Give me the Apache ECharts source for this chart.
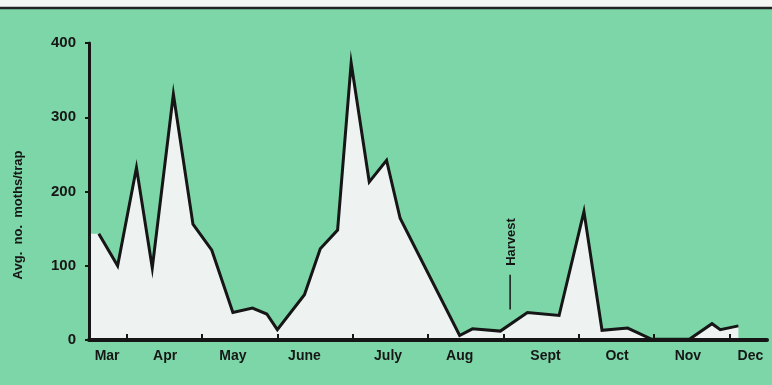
<!DOCTYPE html>
<html>
<head>
<meta charset="utf-8">
<script src="https://cdn.jsdelivr.net/npm/echarts@6/dist/echarts.min.js"></script>
<style>
  html, body { margin: 0; padding: 0; background: #7dd6a8; }
  #chart { width: 772px; height: 385px; }
</style>
</head>
<body>
<div id="chart"></div>
<script>
// x is in months from the start of March (0 = 1 Mar, 9 = end of Nov / early Dec)
const weekX = [0.13, 0.38, 0.63, 0.84, 1.12, 1.38, 1.63, 1.91, 2.17, 2.36, 2.5, 2.86, 3.07, 3.3, 3.48, 3.72, 3.95, 4.13, 4.92, 5.09, 5.46, 5.82, 6.24, 6.57, 6.81, 7.15, 7.47, 7.97, 8.27, 8.38, 8.62]
const mothsPerTrap = [143, 100, 232, 97, 331, 156, 121, 37, 43, 35, 14, 61, 123, 148, 373, 213, 242, 164, 6, 15, 12, 37, 33, 173, 13, 16, 1, 1, 22, 14, 19]
const startFill = 143

const monthNames = ['Mar', 'Apr', 'May', 'June', 'July', 'Aug', 'Sept', 'Oct', 'Nov', 'Dec']
const monthLabelPos = [0.24, 1.01, 1.91, 2.86, 3.97, 4.92, 6.06, 7.01, 7.95, 8.78]
const monthTicks = [0.5, 1.5, 2.5, 3.5, 4.5, 5.5, 6.5, 7.5, 8.5]
const yTicks = [0, 100, 200, 300, 400]

const harvestX = 5.59
const harvestFrom = 41
const harvestTo = 88

const points = weekX.map((x, i) => [x, mothsPerTrap[i]])
const fillPoints = [[0, startFill]].concat(points)

const chart = echarts.init(document.getElementById('chart'))
const ink = '#161616'
const font = '"Liberation Sans", Arial, sans-serif'

const option = {
  backgroundColor: '#7dd6a8',
  animation: false,
  grid: { left: 89, right: 5, top: 43, bottom: 45 },
  xAxis: {
    type: 'value',
    min: 0,
    max: 9,
    z: 5,
    axisLine: { show: true, onZero: false, lineStyle: { color: ink, width: 4 } },
    axisTick: { show: true, inside: true, length: 6, lineStyle: { color: ink, width: 2 }, customValues: monthTicks },
    axisLabel: {
      customValues: monthLabelPos,
      margin: 9,
      color: ink,
      fontFamily: font,
      fontWeight: 'bold',
      fontSize: 14,
      formatter: function (v) {
        const idx = monthLabelPos.findIndex(p => Math.abs(p - v) < 1e-6)
        return idx >= 0 ? monthNames[idx] : ''
      }
    },
    splitLine: { show: false }
  },
  yAxis: {
    type: 'value',
    min: 0,
    max: 400,
    interval: 100,
    z: 5,
    axisLine: { show: true, lineStyle: { color: ink, width: 3 } },
    axisTick: { show: true, length: 4, lineStyle: { color: ink, width: 2 } },
    axisLabel: {
      margin: 13,
      color: ink,
      fontFamily: font,
      fontWeight: 'bold',
      fontSize: 15,
      formatter: v => yTicks.includes(v) ? String(v) : ''
    },
    splitLine: { show: false }
  },
  series: [
    {
      name: 'fill',
      type: 'line',
      data: fillPoints,
      symbol: 'none',
      lineStyle: { width: 0 },
      areaStyle: { color: '#eef3f1', opacity: 1 },
      z: 1
    },
    {
      name: 'moths',
      type: 'line',
      data: points,
      symbol: 'none',
      lineStyle: { color: ink, width: 3, join: 'miter', miterLimit: 10 },
      z: 3
    },
    {
      name: 'harvest',
      type: 'line',
      data: [[harvestX, harvestFrom], [harvestX, harvestTo]],
      symbol: 'none',
      lineStyle: { color: ink, width: 1.5 },
      z: 3
    }
  ]
}

chart.setOption(option)

const harvestPos = chart.convertToPixel({ gridIndex: 0 }, [harvestX, 132])

chart.setOption({
  graphic: [
    { type: 'rect', shape: { x: 0, y: 0, width: 772, height: 7 }, style: { fill: '#f4f6f4' }, z: 10 },
    { type: 'line', shape: { x1: 0, y1: 8, x2: 772, y2: 8 }, style: { stroke: '#222', lineWidth: 2.5 }, z: 10 },
    {
      type: 'text',
      x: 18,
      y: 215,
      rotation: Math.PI / 2,
      style: {
        text: 'Avg.  no.  moths/trap',
        fill: ink,
        font: 'bold 13px ' + font,
        align: 'center',
        verticalAlign: 'middle'
      },
      z: 10
    },
    {
      type: 'text',
      x: harvestPos[0] + 1,
      y: harvestPos[1],
      rotation: Math.PI / 2,
      style: {
        text: 'Harvest',
        fill: ink,
        font: 'bold 13px ' + font,
        align: 'center',
        verticalAlign: 'middle'
      },
      z: 10
    }
  ]
})
</script>
</body>
</html>
